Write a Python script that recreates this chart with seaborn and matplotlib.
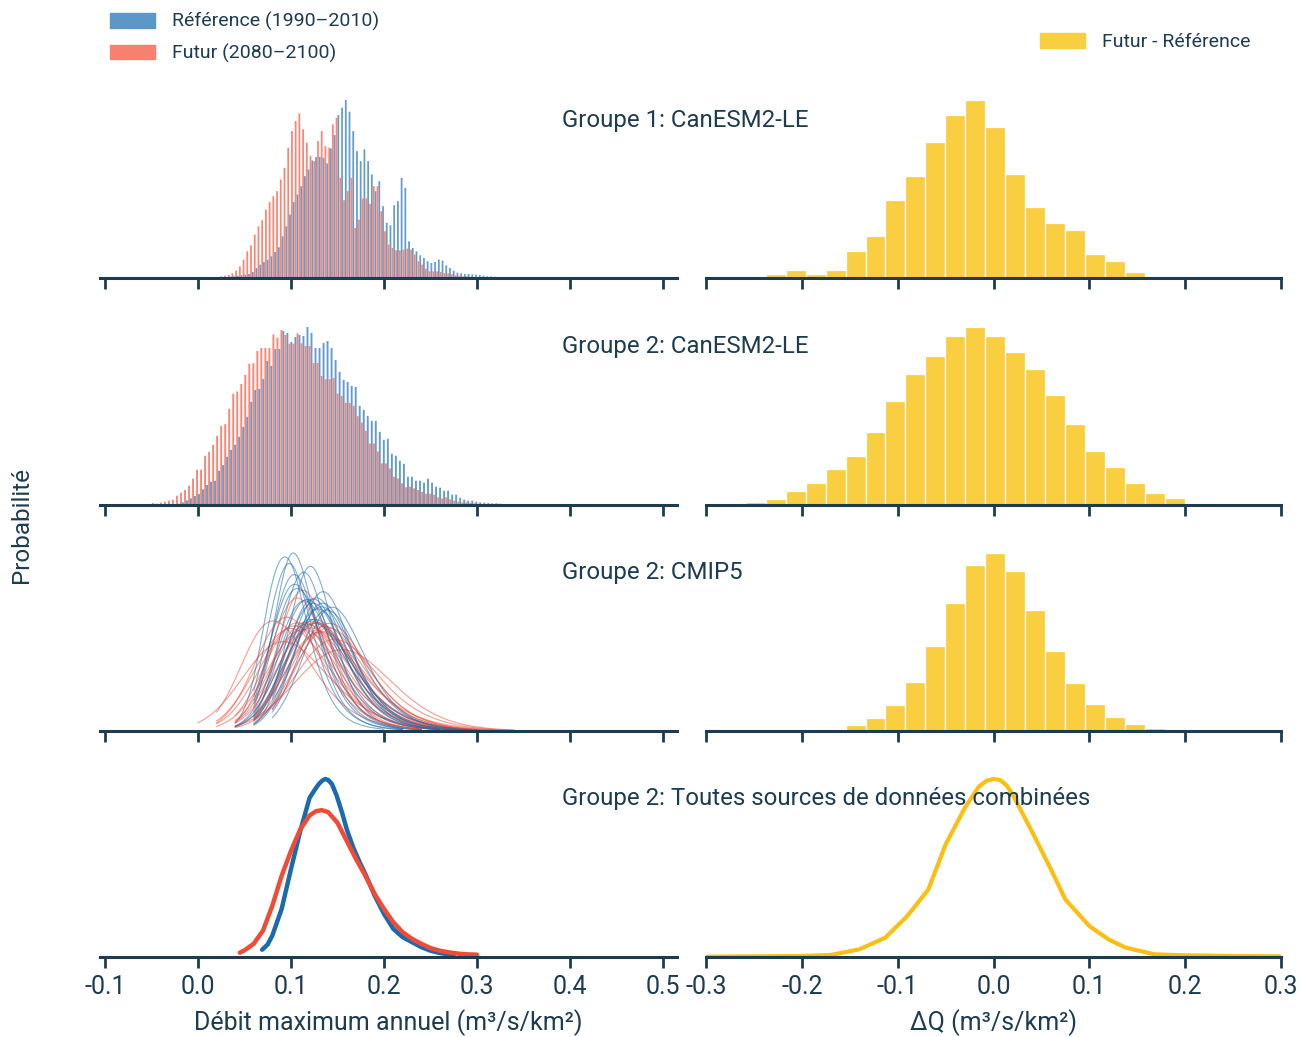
import numpy as np
import pandas as pd
import matplotlib
matplotlib.use("Agg")
import matplotlib.pyplot as plt
import seaborn as sns
from matplotlib.patches import Patch
from matplotlib.ticker import FormatStrFormatter

NAVY = "#1D3C4F"
BLUE_BAR = "#5C97C8"
RED_BAR = "#F7806F"
BLUE_LINE = "#1C6AAE"
RED_LINE = "#EF4B37"
YELLOW_BAR = "#F9CE40"
YELLOW_LINE = "#FBBF13"

# ---- Groupe 1 : CanESM2-LE, histogramme du debit (pas de 0.004 a partir de 0.0)
g1_edges = np.round(np.arange(0, 91) * 0.004, 4)
g1_ref = [0, 0, 1, 1, 1, 2, 2, 3, 4, 5,
          6, 8, 10, 12, 18, 30, 40, 48, 55, 65,
          78, 92, 125, 155, 190, 228, 250, 275, 305, 325,
          352, 362, 363, 360, 343, 388, 428, 488, 510, 533,
          498, 440, 380, 350, 385, 350, 310, 260, 290, 215,
          165, 158, 218, 230, 300, 270, 110, 90, 80, 68,
          60, 50, 45, 48, 55, 52, 38, 30, 22, 16,
          14, 12, 12, 11, 10, 9, 7, 5, 5, 4,
          3, 3, 3, 2, 2, 2, 1, 1, 1, 1]
g1_fut = [1, 1, 2, 2, 3, 3, 5, 7, 9, 14,
          22, 35, 55, 80, 98, 130, 155, 173, 205, 228,
          245, 260, 295, 330, 390, 440, 470, 493, 445, 405,
          365, 350, 410, 440, 395, 390, 460, 480, 300, 233,
          260, 300, 150, 175, 238, 238, 222, 275, 275, 200,
          140, 100, 90, 83, 83, 85, 88, 85, 70, 50,
          40, 28, 20, 20, 20, 18, 15, 14, 11, 8,
          7, 5, 5, 4, 3, 3, 2, 2, 1, 1,
          0, 0, 0, 0, 0, 0, 0, 0, 0, 0]

# ---- Groupe 2 : CanESM2-LE (pas de 0.00432 a partir de -0.0496)
g2_edges = -0.0496 + np.arange(0, 91) * 0.00432
g2_ref = [0, 1, 1, 1, 2, 3, 4, 8, 14, 20,
          27, 33, 47, 60, 70, 73, 103, 120, 145, 166,
          181, 205, 235, 265, 310, 346, 349, 379, 433, 418,
          469, 469, 523, 517, 490, 505, 511, 508, 535, 517,
          472, 472, 487, 493, 472, 436, 400, 376, 370, 358,
          355, 298, 286, 268, 253, 253, 220, 196, 199, 154,
          148, 133, 124, 85, 85, 73, 73, 67, 79, 67,
          55, 52, 43, 43, 31, 31, 22, 16, 13, 13,
          10, 8, 7, 6, 5, 5, 4, 3, 2, 2]
g2_fut = [6, 4, 7, 10, 13, 16, 28, 37, 45, 58,
          79, 106, 106, 148, 160, 181, 208, 238, 243, 289,
          334, 341, 364, 391, 424, 426, 463, 472, 472, 472,
          513, 503, 526, 511, 485, 485, 516, 486, 478, 478,
          427, 427, 388, 378, 378, 382, 335, 328, 307, 307,
          298, 267, 248, 223, 185, 185, 161, 125, 125, 110,
          85, 80, 65, 53, 55, 50, 45, 40, 34, 34,
          31, 23, 20, 23, 17, 13, 10, 8, 8, 6,
          5, 4, 3, 3, 2, 2, 1, 1, 0, 0]

# ---- Groupe 2 : CMIP5, une courbe par modele (poids sur une grille de 0.02)
cmip_grid = [0.00, 0.02, 0.04, 0.06, 0.08, 0.10, 0.12, 0.14, 0.16,
             0.18, 0.20, 0.22, 0.24, 0.26, 0.28, 0.30, 0.32, 0.34]
cmip_ref = [
    [0, 0, 0, 3, 40, 100, 60, 22, 8, 3, 1, 0.5, 0, 0, 0, 0, 0, 0],
    [0, 0, 0, 8, 65, 100, 50, 20, 8, 3, 1.5, 0.5, 0, 0, 0, 0, 0, 0],
    [0, 0, 0, 2, 25, 85, 100, 45, 18, 7, 3, 1, 0.5, 0, 0, 0, 0, 0],
    [0, 0, 0, 2, 15, 60, 100, 75, 40, 18, 8, 4, 2, 1, 0, 0, 0, 0],
    [0, 0, 0, 0, 10, 50, 100, 85, 45, 22, 10, 5, 2, 1, 0.5, 0, 0, 0],
    [0, 0, 0, 1, 8, 40, 90, 100, 60, 30, 14, 6, 3, 1.5, 0.5, 0, 0, 0],
    [0, 0, 1, 5, 30, 80, 100, 80, 50, 28, 14, 7, 3, 1.5, 0.7, 0, 0, 0],
    [0, 0, 0, 5, 45, 100, 80, 40, 18, 8, 4, 2, 1, 0, 0, 0, 0, 0],
    [0, 0, 0, 1, 12, 65, 100, 80, 50, 30, 18, 10, 5, 3, 1.5, 0.7, 0, 0],
    [0, 0, 0, 0, 5, 30, 80, 100, 70, 40, 20, 10, 5, 2, 1, 0, 0, 0],
    [0, 0, 0, 10, 55, 100, 75, 35, 15, 6, 2.5, 1, 0, 0, 0, 0, 0, 0],
    [0, 0, 1, 6, 35, 90, 100, 60, 30, 14, 6, 3, 1.5, 0.5, 0, 0, 0, 0],
    [0, 0, 0, 0, 15, 55, 100, 90, 55, 28, 13, 6, 3, 1.5, 0.8, 0.4, 0, 0],
    [0, 0, 1, 15, 90, 100, 45, 15, 5, 2, 0.8, 0, 0, 0, 0, 0, 0, 0],
    [0, 0, 0, 1, 10, 55, 100, 60, 22, 8, 3, 1, 0.5, 0, 0, 0, 0, 0],
    [0, 0, 0, 0, 6, 35, 85, 100, 55, 25, 10, 4, 2, 1, 0, 0, 0, 0],
    [0, 0, 1, 4, 22, 70, 100, 85, 55, 32, 18, 10, 5, 2.5, 1.2, 0.5, 0, 0],
    [0, 0, 0, 6, 50, 100, 70, 30, 12, 5, 2, 1, 0, 0, 0, 0, 0, 0],
    [0, 0, 0, 2, 18, 65, 100, 78, 42, 20, 9, 4, 2, 1, 0.5, 0, 0, 0],
    [0, 0, 0, 0, 3, 20, 65, 100, 80, 45, 22, 10, 5, 2, 1, 0.5, 0, 0],
    [0, 0, 0, 3, 28, 80, 100, 65, 32, 15, 7, 3, 1.5, 0.7, 0, 0, 0, 0],
    [0, 0, 0, 1, 10, 45, 95, 100, 60, 30, 15, 7, 3.5, 1.5, 0.7, 0.3, 0, 0],
]
cmip_fut = [
    [3, 12, 35, 70, 100, 95, 75, 50, 30, 18, 10, 5, 3, 1.5, 0.7, 0, 0, 0],
    [0, 5, 30, 85, 100, 80, 50, 28, 15, 8, 4, 2, 1, 0, 0, 0, 0, 0],
    [0, 0, 2, 8, 20, 45, 75, 95, 100, 85, 60, 38, 22, 12, 6, 3, 1.5, 0.7],
    [0, 0, 2, 12, 45, 90, 100, 75, 45, 25, 13, 7, 3.5, 1.8, 0.8, 0.4, 0, 0],
    [0, 0, 0, 5, 30, 80, 100, 80, 50, 28, 15, 8, 4, 2, 1, 0.5, 0, 0],
    [0, 2, 10, 35, 75, 100, 85, 55, 30, 16, 8, 4, 2, 1, 0, 0, 0, 0],
    [0, 0, 0, 3, 15, 50, 90, 100, 75, 45, 25, 13, 7, 3.5, 1.8, 0.8, 0.4, 0],
    [0, 0, 0, 4, 35, 95, 100, 55, 25, 11, 5, 2, 1, 0, 0, 0, 0, 0],
    [0, 3, 15, 45, 85, 100, 80, 50, 28, 15, 8, 4, 2, 1, 0, 0, 0, 0],
    [0, 0, 0, 2, 18, 60, 100, 90, 62, 40, 25, 15, 9, 5, 3, 1.5, 0.7, 0.3],
    [0, 0, 0, 0, 8, 35, 80, 100, 80, 50, 28, 15, 8, 4, 2, 1, 0, 0],
    [0, 0, 3, 15, 50, 92, 100, 70, 40, 22, 12, 6, 3, 1.5, 0.7, 0, 0, 0],
    [0, 0, 5, 25, 70, 100, 90, 60, 35, 18, 9, 4, 2, 1, 0, 0, 0, 0],
    [0, 0, 0, 3, 20, 70, 100, 85, 55, 32, 18, 10, 5, 2.5, 1.2, 0.6, 0, 0],
    [0, 0, 1, 6, 25, 60, 95, 100, 72, 45, 26, 14, 7, 3.5, 1.7, 0.8, 0.4, 0],
    [0, 1, 6, 22, 60, 95, 100, 70, 42, 24, 13, 7, 3.5, 1.7, 0.8, 0.4, 0, 0],
    [0, 0, 2, 10, 38, 82, 100, 82, 52, 30, 17, 9, 4.5, 2.2, 1, 0.5, 0, 0],
    [0, 0, 1, 4, 15, 40, 75, 100, 90, 65, 40, 24, 14, 8, 4, 2, 1, 0.5],
    [0, 0, 2, 12, 55, 100, 85, 45, 20, 9, 4, 2, 1, 0, 0, 0, 0, 0],
    [0, 0, 0, 4, 22, 65, 100, 92, 60, 35, 19, 10, 5, 2.5, 1.2, 0.5, 0, 0],
    [0, 2, 12, 45, 90, 100, 70, 40, 20, 10, 5, 2.5, 1, 0, 0, 0, 0, 0],
    [0, 0, 0, 2, 12, 42, 85, 100, 82, 52, 30, 16, 8, 4, 2, 1, 0.5, 0],
]

# ---- Groupe 2 : toutes sources combinees
comb_ref_x = [0.069, 0.075, 0.08, 0.09, 0.10, 0.11, 0.12, 0.125, 0.13, 0.134, 0.137, 0.14,
              0.144, 0.149, 0.155, 0.16, 0.167, 0.174, 0.18, 0.19, 0.20, 0.21, 0.22, 0.23,
              0.24, 0.25, 0.26, 0.27, 0.275]
comb_ref_y = [22, 38, 65, 145, 265, 380, 480, 502, 522, 533, 537, 534,
              522, 488, 435, 385, 330, 285, 250, 185, 130, 85, 60, 45,
              30, 19, 12, 8, 7]
comb_fut_x = [0.045, 0.05, 0.06, 0.07, 0.08, 0.09, 0.10, 0.11, 0.12, 0.127, 0.133, 0.14, 0.15,
              0.16, 0.17, 0.18, 0.19, 0.20, 0.21, 0.22, 0.23, 0.24, 0.25, 0.26, 0.27, 0.28,
              0.29, 0.30]
comb_fut_y = [13, 20, 40, 80, 155, 245, 320, 385, 427, 440, 443, 437, 405,
              350, 295, 245, 190, 145, 105, 75, 55, 40, 27, 19, 14, 10,
              8, 7]

# ---- Difference Futur - Reference (Delta Q)
dq_edges = -0.2586 + np.arange(0, 25) * 0.02084
dq_g1 = [7, 13, 25, 13, 25, 82, 127, 235, 307, 409, 490, 535,
         454, 313, 214, 166, 145, 73, 52, 19, 0, 0, 0, 0]
dq_g2 = [10, 19, 43, 67, 109, 148, 220, 313, 394, 448, 508, 535,
         508, 460, 409, 331, 244, 163, 115, 67, 37, 22, 7, 7]
dq_cmip = [0, 0, 0, 4, 7, 19, 40, 79, 148, 256, 385, 499,
           535, 481, 364, 241, 145, 82, 43, 22, 10, 4, 0, 0]
dq_comb_x = [-0.3, -0.2, -0.17, -0.14, -0.113, -0.09, -0.068, -0.05, -0.03, -0.015, -0.007,
             0.0, 0.007, 0.014, 0.02, 0.04, 0.06, 0.075, 0.1, 0.12, 0.138, 0.168, 0.2,
             0.25, 0.3]
dq_comb_y = [1, 3, 6, 23, 58, 123, 203, 338, 448, 513, 530,
             535, 532, 515, 488, 378, 263, 173, 93, 53, 28, 8, 5,
             3, 2]

titles = ["Groupe 1: CanESM2-LE", "Groupe 2: CanESM2-LE", "Groupe 2: CMIP5",
          "Groupe 2: Toutes sources de données combinées"]

sns.set_theme(style="white")
plt.rcParams["font.family"] = ["Roboto", "DejaVu Sans"]
plt.rcParams["axes.unicode_minus"] = False

W, H = 1308.0, 1037.0
fig = plt.figure(figsize=(13.08, 10.37), dpi=100)
bases = [278, 505, 731, 957]
AX_H = 200


def make_ax(x0, x1, base):
    return fig.add_axes([x0 / W, 1 - base / H, (x1 - x0) / W, AX_H / H])


def style_ax(ax, ticks, xlim, last):
    ax.set_xlim(*xlim)
    ax.set_xticks(ticks)
    ax.xaxis.set_major_formatter(FormatStrFormatter("%.1f"))
    ax.set_yticks([])
    ax.set_ylabel("")
    ax.set_xlabel("")
    for s in ["top", "left", "right"]:
        ax.spines[s].set_visible(False)
    ax.spines["bottom"].set_color(NAVY)
    ax.spines["bottom"].set_linewidth(2.2)
    ax.tick_params(axis="x", direction="out", length=8, width=2, color=NAVY,
                   labelcolor=NAVY, labelsize=18, bottom=True, labelbottom=last, pad=5)
    ax.patch.set_alpha(0)


def twin_hist(ax, ref, fut, edges):
    centers = (edges[:-1] + edges[1:]) / 2
    df = pd.DataFrame({"debit": np.concatenate([centers, centers]),
                       "prob": np.concatenate([fut, ref]),
                       "periode": ["Futur"] * len(fut) + ["Référence"] * len(ref)})
    sns.histplot(data=df, x="debit", weights="prob", hue="periode",
                 hue_order=["Futur", "Référence"],
                 palette={"Futur": RED_BAR, "Référence": BLUE_BAR},
                 bins=list(edges), multiple="dodge", shrink=0.95, alpha=0.95,
                 linewidth=0, snap=False, legend=False, ax=ax)
    ax.set_ylim(0, max(max(ref), max(fut)) / 0.89)


def dq_hist(ax, vals):
    centers = (dq_edges[:-1] + dq_edges[1:]) / 2
    sns.histplot(x=centers, weights=vals, bins=list(dq_edges), color=YELLOW_BAR,
                 edgecolor="white", linewidth=0.9, alpha=1, ax=ax)
    ax.set_ylim(0, max(vals) / 0.89)


left_ticks = np.round(np.arange(-0.1, 0.51, 0.1), 1)
right_ticks = np.round(np.arange(-0.3, 0.31, 0.1), 1)
left_lim = (-0.1055, 0.515)
right_lim = (-0.3, 0.3)

axes_l = [make_ax(99.8, 677, b) for b in bases]
axes_r = [make_ax(706, 1281, b) for b in bases]

twin_hist(axes_l[0], g1_ref, g1_fut, g1_edges)
twin_hist(axes_l[1], g2_ref, g2_fut, g2_edges)

# CMIP5 : densites par modele
ax = axes_l[2]
for ref_w, fut_w in zip(cmip_ref, cmip_fut):
    for w, col in [(fut_w, RED_LINE), (ref_w, BLUE_LINE)]:
        xs = [g for g, v in zip(cmip_grid, w) if v > 0]
        ws = [v for v in w if v > 0]
        sns.kdeplot(x=xs, weights=ws, bw_method=0.5, cut=0, color=col,
                    linewidth=0.8, alpha=0.55, ax=ax)
ymax = max(line.get_ydata().max() for line in ax.lines)
ax.set_ylim(0, ymax / 0.89)

ax = axes_l[3]
sns.lineplot(x=comb_ref_x, y=comb_ref_y, color=BLUE_LINE, linewidth=3.2, ax=ax)
sns.lineplot(x=comb_fut_x, y=comb_fut_y, color=RED_LINE, linewidth=3.2, ax=ax)
ax.set_ylim(0, max(comb_ref_y) / 0.89)

dq_hist(axes_r[0], dq_g1)
dq_hist(axes_r[1], dq_g2)
dq_hist(axes_r[2], dq_cmip)
ax = axes_r[3]
sns.lineplot(x=dq_comb_x, y=dq_comb_y, color=YELLOW_LINE, linewidth=3, ax=ax)
ax.set_ylim(0, max(dq_comb_y) / 0.89)

for i in range(4):
    style_ax(axes_l[i], left_ticks, left_lim, i == 3)
    style_ax(axes_r[i], right_ticks, right_lim, i == 3)

axes_l[3].set_xlabel("Débit maximum annuel (m³/s/km²)", fontsize=18, color=NAVY, labelpad=7)
axes_r[3].set_xlabel("ΔQ (m³/s/km²)", fontsize=18, color=NAVY, labelpad=7)

for t, y in zip(titles, [121, 347, 573, 799]):
    fig.text(562 / W, 1 - y / H, t, fontsize=17.3, color=NAVY, va="center", ha="left")

fig.text(22 / W, 1 - 525 / H, "Probabilité", rotation=90, fontsize=17.5,
         color=NAVY, va="center", ha="center")

leg_kw = dict(frameon=False, fontsize=14, handlelength=2.3, handleheight=0.8,
              handletextpad=0.9, labelspacing=0.65, borderpad=0, borderaxespad=0,
              labelcolor=NAVY)
fig.legend(handles=[Patch(color=BLUE_BAR, label="Référence (1990–2010)"),
                    Patch(color=RED_BAR, label="Futur (2080–2100)")],
           loc="upper left", bbox_to_anchor=(110 / W, 1 - 12 / H), **leg_kw)
fig.legend(handles=[Patch(color=YELLOW_BAR, label="Futur - Référence")],
           loc="upper left", bbox_to_anchor=(1040 / W, 1 - 33 / H), **leg_kw)

fig.savefig("out.png", dpi=100)
